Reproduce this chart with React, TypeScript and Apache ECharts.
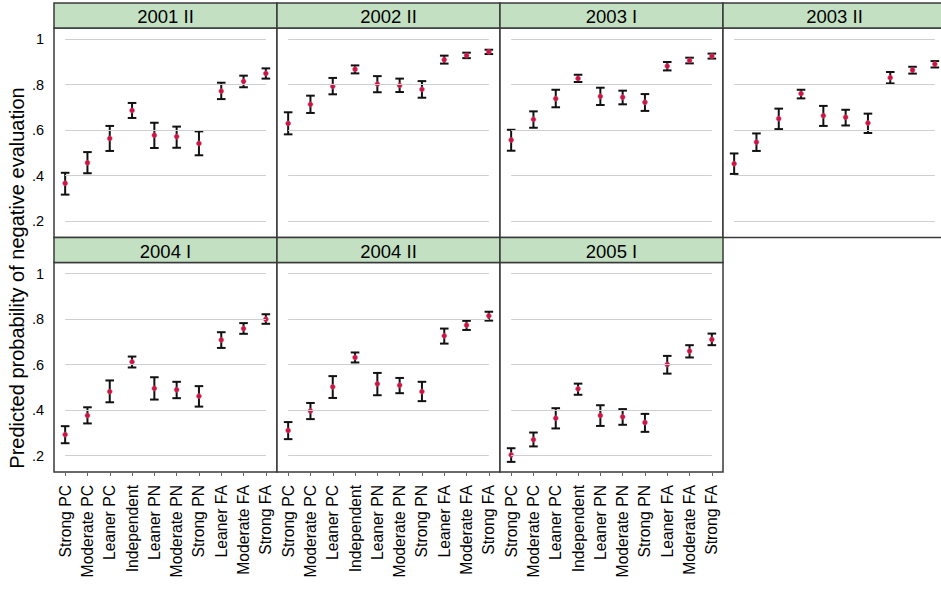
import React, { useEffect, useRef } from "react";
import * as echarts from "echarts";

const categories = [
  "Strong PC", "Moderate PC", "Leaner PC", "Independent", "Leaner PN",
  "Moderate PN", "Strong PN", "Leaner FA", "Moderate FA", "Strong FA",
];
const panelTitles = ["2001 II", "2002 II", "2003 I", "2003 II", "2004 I", "2004 II", "2005 I"];
const yTicks = [0.2, 0.4, 0.6, 0.8, 1];
const yTitle = "Predicted probability of negative evaluation";

// estimates, lower and upper bounds, per panel
const est2001II = [0.366, 0.456, 0.563, 0.686, 0.577, 0.571, 0.541, 0.771, 0.814, 0.849];
const lo2001II = [0.316, 0.410, 0.508, 0.653, 0.521, 0.522, 0.489, 0.736, 0.788, 0.826];
const hi2001II = [0.412, 0.503, 0.618, 0.719, 0.632, 0.615, 0.594, 0.808, 0.839, 0.871];

const est2002II = [0.629, 0.713, 0.792, 0.867, 0.802, 0.796, 0.779, 0.909, 0.928, 0.944];
const lo2002II = [0.581, 0.675, 0.757, 0.849, 0.766, 0.767, 0.742, 0.892, 0.916, 0.934];
const hi2002II = [0.678, 0.751, 0.829, 0.884, 0.837, 0.826, 0.815, 0.927, 0.940, 0.953];

const est2003I = [0.556, 0.647, 0.738, 0.827, 0.748, 0.744, 0.722, 0.881, 0.906, 0.925];
const lo2003I = [0.509, 0.610, 0.700, 0.811, 0.710, 0.713, 0.684, 0.862, 0.893, 0.914];
const hi2003I = [0.601, 0.682, 0.777, 0.843, 0.786, 0.773, 0.758, 0.899, 0.918, 0.936];

const est2003II = [0.452, 0.547, 0.650, 0.760, 0.663, 0.656, 0.631, 0.830, 0.864, 0.890];
const lo2003II = [0.407, 0.508, 0.604, 0.739, 0.618, 0.620, 0.587, 0.805, 0.848, 0.875];
const hi2003II = [0.497, 0.585, 0.694, 0.777, 0.706, 0.689, 0.672, 0.855, 0.878, 0.903];

const est2004I = [0.292, 0.376, 0.481, 0.612, 0.495, 0.489, 0.461, 0.708, 0.758, 0.799];
const lo2004I = [0.254, 0.341, 0.434, 0.587, 0.446, 0.452, 0.415, 0.673, 0.735, 0.779];
const hi2004I = [0.329, 0.412, 0.530, 0.635, 0.544, 0.524, 0.505, 0.742, 0.782, 0.821];

const est2004II = [0.310, 0.396, 0.502, 0.631, 0.515, 0.509, 0.481, 0.726, 0.773, 0.814];
const lo2004II = [0.272, 0.360, 0.453, 0.609, 0.465, 0.474, 0.439, 0.692, 0.752, 0.793];
const hi2004II = [0.347, 0.431, 0.549, 0.653, 0.563, 0.541, 0.524, 0.758, 0.792, 0.832];

const est2005I = [0.203, 0.270, 0.364, 0.493, 0.376, 0.370, 0.345, 0.600, 0.659, 0.710];
const lo2005I = [0.172, 0.240, 0.319, 0.467, 0.330, 0.335, 0.304, 0.560, 0.631, 0.685];
const hi2005I = [0.232, 0.301, 0.408, 0.516, 0.421, 0.404, 0.383, 0.638, 0.685, 0.736];

const panelEst = [est2001II, est2002II, est2003I, est2003II, est2004I, est2004II, est2005I];
const panelLo = [lo2001II, lo2002II, lo2003I, lo2003II, lo2004I, lo2004II, lo2005I];
const panelHi = [hi2001II, hi2002II, hi2003I, hi2003II, hi2004I, hi2004II, hi2005I];

const FONT = '"Liberation Sans", Arial, Helvetica, sans-serif';
const LEFT0 = 54;
const PW = 223;
const HEAD_H = 25;
const PLOT_H = 209.5;
const ROW_TOPS = [3, 237.5];
const Y_MIN = 0.1275;
const Y_MAX = 1.0485;

function fmtY(v: number): string {
  if (Math.abs(v - 1) < 1e-9) return "1";
  return String(Math.round(v * 10) / 10).replace(/^0\./, ".");
}

export default function App() {
  const ref = useRef<HTMLDivElement>(null);

  useEffect(() => {
    if (!ref.current) return;
    const chart = echarts.init(ref.current, undefined, { renderer: "svg" });

    const grids: any[] = [];
    const xAxes: any[] = [];
    const yAxes: any[] = [];
    const series: any[] = [];
    const graphics: any[] = [];

    panelTitles.forEach((title, i) => {
      const col = i % 4;
      const row = Math.floor(i / 4);
      const left = LEFT0 + col * PW;
      const headTop = ROW_TOPS[row];
      const plotTop = headTop + HEAD_H;

      grids.push({
        left,
        top: plotTop,
        width: PW,
        height: PLOT_H,
        show: true,
        backgroundColor: "#ffffff",
        borderColor: "#3a3a3a",
        borderWidth: 1.5,
        containLabel: false,
        outerBoundsMode: "none",
      });

      xAxes.push({
        type: "category",
        gridIndex: i,
        data: categories,
        boundaryGap: true,
        axisLine: { show: false },
        axisTick: {
          show: row === 1,
          alignWithLabel: true,
          length: 4,
          lineStyle: { color: "#666", width: 1 },
        },
        axisLabel: {
          show: row === 1,
          rotate: 90,
          interval: 0,
          fontSize: 15.7,
          fontFamily: FONT,
          fontWeight: "normal",
          color: "#000",
          margin: 13,
        },
        splitLine: { show: false },
      });

      yAxes.push({
        type: "value",
        gridIndex: i,
        min: Y_MIN,
        max: Y_MAX,
        axisLine: { show: false },
        axisTick: { show: false },
        splitLine: { show: false },
        axisLabel: {
          show: col === 0,
          customValues: yTicks,
          formatter: (v: number) => fmtY(v),
          fontSize: 14.5,
          fontFamily: FONT,
          color: "#000",
          margin: 10,
        },
      });

      // gridlines spanning first to last category
      series.push({
        type: "line",
        xAxisIndex: i,
        yAxisIndex: i,
        data: [],
        z: 1,
        silent: true,
        markLine: {
          silent: true,
          symbol: ["none", "none"],
          label: { show: false },
          lineStyle: { color: "#cfcfcf", width: 1.2, type: "solid" },
          data: yTicks.map((v) => [
            { coord: [0, v] },
            { coord: [categories.length - 1, v] },
          ]),
        },
      });

      const lo = panelLo[i];
      const hi = panelHi[i];
      series.push({
        type: "custom",
        xAxisIndex: i,
        yAxisIndex: i,
        z: 2,
        silent: true,
        encode: { x: 0, y: [1, 2] },
        data: categories.map((_, j) => [j, lo[j], hi[j]]),
        renderItem: (params: any, api: any) => {
          const x = api.value(0);
          const top = api.coord([x, api.value(2)]);
          const bot = api.coord([x, api.value(1)]);
          const w = 4.3;
          const style = { stroke: "#111111", lineWidth: 2 };
          return {
            type: "group",
            children: [
              { type: "line", shape: { x1: top[0], y1: top[1], x2: bot[0], y2: bot[1] }, style },
              { type: "line", shape: { x1: top[0] - w, y1: top[1], x2: top[0] + w, y2: top[1] }, style },
              { type: "line", shape: { x1: bot[0] - w, y1: bot[1], x2: bot[0] + w, y2: bot[1] }, style },
            ],
          };
        },
      });

      series.push({
        type: "scatter",
        xAxisIndex: i,
        yAxisIndex: i,
        z: 3,
        symbol: "circle",
        symbolSize: 5,
        itemStyle: { color: "#cc1443", borderColor: "#e0577a", borderWidth: 0.5, opacity: 1 },
        data: panelEst[i],
      });

      graphics.push({
        type: "rect",
        z: 10,
        shape: { x: left, y: headTop, width: PW, height: HEAD_H },
        style: { fill: "#c3e0c3", stroke: "#3a3a3a", lineWidth: 1.5 },
      });
      graphics.push({
        type: "text",
        z: 11,
        x: left + PW / 2,
        y: headTop + HEAD_H / 2 + 1,
        style: {
          text: title,
          fill: "#000",
          fontSize: 18.5,
          fontFamily: FONT,
          fontWeight: "normal",
          align: "center",
          verticalAlign: "middle",
        },
      });
    });

    graphics.push({
      type: "text",
      z: 11,
      x: 17,
      y: 278,
      rotation: Math.PI / 2,
      style: {
        text: yTitle,
        fill: "#000",
        fontSize: 20,
        fontFamily: FONT,
        fontWeight: "normal",
        align: "center",
        verticalAlign: "middle",
      },
    });

    chart.setOption({
      animation: false,
      backgroundColor: "#ffffff",
      grid: grids,
      xAxis: xAxes,
      yAxis: yAxes,
      series,
      graphic: { elements: graphics },
    });

    return () => chart.dispose();
  }, []);

  return (
    <div
      ref={ref}
      style={{ position: "absolute", left: 0, top: 0, width: 941, height: 590 }}
    />
  );
}
